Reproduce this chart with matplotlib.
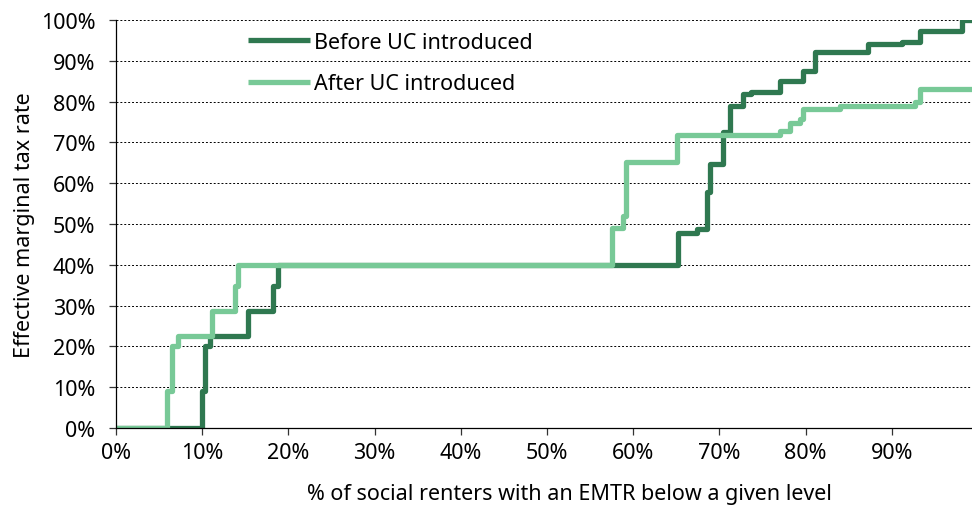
import numpy as np
import matplotlib.pyplot as plt
from matplotlib.ticker import PercentFormatter

plt.rcParams['font.family'] = ['Noto Sans', 'DejaVu Sans']

# step breakpoints (% of social renters, EMTR %)
before_x = [0, 10.0, 10.3, 10.9, 15.3, 18.2, 18.8, 65.2, 67.4, 68.6, 68.9, 70.4, 71.2, 72.7,
            73.7, 77.0, 79.7, 81.1, 87.2, 91.2, 93.3, 98.1, 99.3]
before_y = [0, 9, 20, 22.5, 28.7, 34.8, 40, 47.8, 48.8, 57.8, 64.7, 72.5, 79, 81.9,
            82.3, 85, 87.5, 92.1, 94.1, 94.6, 97.3, 100, 100]

after_x = [0, 5.9, 6.5, 7.2, 11.1, 13.8, 14.2, 57.5, 58.8, 59.2, 65.1, 77.0, 78.2, 79.3,
           79.7, 84.0, 92.7, 93.3, 99.3]
after_y = [0, 9, 20, 22.5, 28.7, 34.8, 40, 49, 52, 65.2, 71.8, 72.8, 74.8, 75.7,
           78.2, 79, 80, 83, 83]

dark = '#2f7850'
light = '#78c997'

fig = plt.figure(figsize=(9.72, 5.06), dpi=100)
ax = fig.add_axes([0.1193, 0.152, 0.8807, 0.8065])

ax.plot(before_x, before_y, drawstyle='steps-post', color=dark, lw=3.8,
        label='Before UC introduced', solid_capstyle='butt')
ax.plot(after_x, after_y, drawstyle='steps-post', color=light, lw=3.8,
        label='After UC introduced', solid_capstyle='butt')

ax.set_xlim(0, 99.3)
ax.set_ylim(0, 100)
ax.set_xticks(np.arange(0, 100, 10))
ax.set_yticks(np.arange(0, 101, 10))
ax.xaxis.set_major_formatter(PercentFormatter(decimals=0))
ax.yaxis.set_major_formatter(PercentFormatter(decimals=0))
ax.tick_params(labelsize=15.5, length=5, width=0.9, color='#333333')
ax.tick_params(axis='x', pad=5)
ax.tick_params(axis='y', pad=10)

ax.grid(axis='y', color='black', linestyle=(0, (2, 2)), lw=0.7)
ax.set_axisbelow(True)
for s in ['top', 'right']:
    ax.spines[s].set_visible(False)
ax.spines['left'].set_linewidth(0.9)
ax.spines['bottom'].set_linewidth(0.9)

ax.set_xlabel('% of social renters with an EMTR below a given level', fontsize=15.5)
ax.xaxis.set_label_coords(0.53, -0.135)
ax.set_ylabel('Effective marginal tax rate', fontsize=15.5, labelpad=4)

ax.legend(loc='upper left', bbox_to_anchor=(0.14, 1.0), frameon=False, fontsize=15.5,
          handlelength=2.9, handletextpad=0.2, labelspacing=0.95, borderaxespad=0.15)

fig.savefig('out.png', dpi=100)
